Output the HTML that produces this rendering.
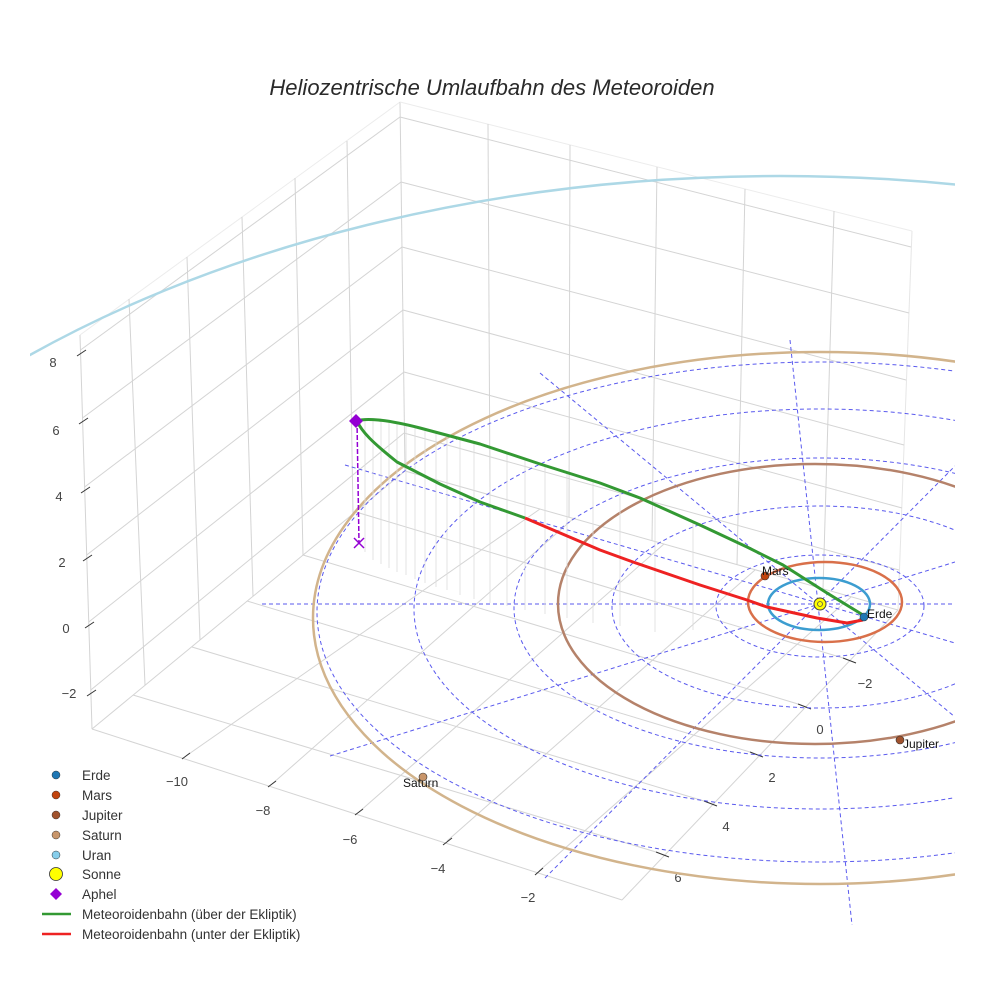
<!DOCTYPE html>
<html><head><meta charset="utf-8"><style>
html,body{margin:0;padding:0;background:#fff;width:984px;height:984px;overflow:hidden;}
svg{display:block;font-family:"Liberation Sans",sans-serif;overflow:hidden;}
</style></head><body>
<svg width="984" height="984" viewBox="0 0 984 984" xmlns="http://www.w3.org/2000/svg">
<defs><clipPath id="c"><rect x="0" y="0" width="955" height="984"/></clipPath>
<clipPath id="u"><rect x="30" y="0" width="925" height="984"/></clipPath></defs>
<text x="492" y="95" text-anchor="middle" font-size="22" font-style="italic" fill="#2a2a2a">Heliozentrische Umlaufbahn des Meteoroiden</text>

<g stroke="#d4d4d4" stroke-width="1" fill="none">
<line x1="80" y1="335" x2="400" y2="102" stroke="#ececec"/>
<line x1="80" y1="335" x2="92" y2="729"/>
<line x1="400" y1="102" x2="405" y2="471"/>
<line x1="129" y1="299" x2="145" y2="685"/>
<line x1="187" y1="257" x2="200" y2="640"/>
<line x1="242" y1="217" x2="253" y2="596"/>
<line x1="295" y1="178" x2="303" y2="555"/>
<line x1="347" y1="141" x2="353" y2="514"/>
<line x1="80.5" y1="350" x2="400" y2="117"/>
<line x1="82.5" y1="418" x2="401" y2="182"/>
<line x1="84.6" y1="487" x2="402" y2="247"/>
<line x1="86.7" y1="555" x2="403" y2="310"/>
<line x1="88.7" y1="622" x2="404" y2="372"/>
<line x1="90.8" y1="690" x2="404" y2="433"/>
<line x1="400" y1="102" x2="912" y2="231" stroke="#ececec"/>
<line x1="912" y1="231" x2="898" y2="610" stroke="#e6e6e6"/>
<line x1="488" y1="124" x2="490" y2="495"/>
<line x1="570" y1="145" x2="569" y2="517"/>
<line x1="657" y1="167" x2="652" y2="541"/>
<line x1="745" y1="189" x2="737" y2="565"/>
<line x1="834" y1="211" x2="823" y2="589"/>
<line x1="400" y1="117" x2="911" y2="247"/>
<line x1="401" y1="182" x2="909" y2="313"/>
<line x1="402" y1="247" x2="906" y2="380"/>
<line x1="403" y1="310" x2="904" y2="445"/>
<line x1="404" y1="372" x2="902" y2="508"/>
<line x1="404" y1="433" x2="899" y2="570"/>
<line x1="92" y1="729" x2="405" y2="471"/>
<line x1="405" y1="471" x2="898" y2="610"/>
<line x1="92" y1="729" x2="622" y2="900"/>
<line x1="622" y1="900" x2="898" y2="610"/>
<line x1="186" y1="756" x2="540" y2="509"/>
<line x1="272" y1="784" x2="574" y2="518"/>
<line x1="359" y1="812" x2="664" y2="544"/>
<line x1="447" y1="841" x2="755" y2="570"/>
<line x1="539" y1="871" x2="851" y2="597"/>
<line x1="656" y1="852" x2="133" y2="695"/>
<line x1="704" y1="801" x2="192" y2="647"/>
<line x1="750" y1="752" x2="247" y2="601"/>
<line x1="798" y1="704" x2="303" y2="555"/>
<line x1="843" y1="658" x2="356" y2="512"/>
</g>

<g stroke="#333" stroke-width="1">
<line x1="77" y1="356" x2="86" y2="350"/>
<line x1="79" y1="424" x2="88" y2="418"/>
<line x1="81" y1="493" x2="90" y2="487"/>
<line x1="83" y1="561" x2="92" y2="555"/>
<line x1="85" y1="628" x2="94" y2="622"/>
<line x1="87" y1="696" x2="96" y2="690"/>
<line x1="182" y1="759" x2="190" y2="753"/>
<line x1="268" y1="787" x2="276" y2="781"/>
<line x1="355" y1="815" x2="363" y2="809"/>
<line x1="443" y1="845" x2="452" y2="838"/>
<line x1="535" y1="875" x2="543" y2="868"/>
<line x1="656" y1="852" x2="669" y2="857"/>
<line x1="704" y1="801" x2="717" y2="806"/>
<line x1="750" y1="752" x2="763" y2="757"/>
<line x1="798" y1="704" x2="811" y2="709"/>
<line x1="843" y1="658" x2="856" y2="663"/>
</g>
<g font-size="13" fill="#444" text-anchor="middle">
<text x="53" y="367">8</text><text x="56" y="435">6</text><text x="59" y="501">4</text>
<text x="62" y="567">2</text><text x="66" y="633">0</text><text x="69" y="698">−2</text>
<text x="177" y="786">−10</text><text x="263" y="815">−8</text><text x="350" y="844">−6</text>
<text x="438" y="873">−4</text><text x="528" y="902">−2</text>
<text x="678" y="882">6</text><text x="726" y="831">4</text><text x="772" y="782">2</text>
<text x="820" y="734">0</text><text x="865" y="688">−2</text>
</g>

<g clip-path="url(#c)" fill="none" stroke-linejoin="round">
<g stroke="#5a5aee" stroke-width="1" stroke-dasharray="4,3">
<ellipse cx="820" cy="606" rx="104" ry="51"/>
<ellipse cx="820" cy="607" rx="208" ry="101"/>
<ellipse cx="820" cy="608" rx="306" ry="150"/>
<ellipse cx="820" cy="609" rx="406" ry="200"/>
<ellipse cx="820" cy="612" rx="503" ry="250"/>
<line x1="262" y1="604" x2="955" y2="604"/>
<line x1="540" y1="373" x2="955" y2="717"/>
<line x1="790" y1="340" x2="852" y2="925"/>
<line x1="545" y1="878" x2="955" y2="466"/>
<line x1="330" y1="756" x2="955" y2="562"/>
<line x1="345" y1="465" x2="955" y2="643"/>
</g>
<ellipse cx="780" cy="876" rx="1123" ry="700" stroke="#add8e6" stroke-width="2.5" clip-path="url(#u)"/>
<ellipse cx="820" cy="618" rx="507" ry="266" stroke="#d2b48c" stroke-width="2.5"/>
<ellipse cx="815" cy="604" rx="257" ry="140" stroke="#b5826a" stroke-width="2.5"/>
<ellipse cx="825" cy="602" rx="77" ry="40" stroke="#d9704a" stroke-width="2.5"/>
<ellipse cx="819" cy="604" rx="51" ry="26" stroke="#3c9dd0" stroke-width="2.5"/>
<g stroke="#dcdcdc" stroke-width="0.8">
<line x1="365" y1="420" x2="365" y2="552"/><line x1="373" y1="419" x2="373" y2="560"/>
<line x1="381" y1="421" x2="381" y2="564"/><line x1="389" y1="422" x2="389" y2="568"/>
<line x1="397" y1="424" x2="397" y2="572"/><line x1="406" y1="425" x2="406" y2="575"/>
<line x1="415" y1="427" x2="415" y2="579"/><line x1="425" y1="429" x2="425" y2="583"/>
<line x1="436" y1="432" x2="436" y2="587"/><line x1="447" y1="435" x2="447" y2="590"/>
<line x1="460" y1="439" x2="460" y2="595"/><line x1="474" y1="442" x2="474" y2="599"/>
<line x1="490" y1="447" x2="490" y2="603"/><line x1="507" y1="453" x2="507" y2="606"/>
<line x1="525" y1="459" x2="525" y2="610"/><line x1="545" y1="466" x2="545" y2="614"/>
<line x1="567" y1="472" x2="567" y2="618"/><line x1="593" y1="481" x2="593" y2="623"/>
<line x1="620" y1="490" x2="620" y2="626"/><line x1="655" y1="505" x2="655" y2="632"/>
<line x1="693" y1="522" x2="693" y2="630"/>
</g>
<path d="M357,421 C365,418 385,419 420,428 L480,444 L540,464 L600,483 L640,498 L700,525 L747,547 L783,565 L827,593 L863,615" stroke="#339933" stroke-width="3"/>
<path d="M357,421 C362,432 372,442 397,462 L440,484 L480,502 L525,518" stroke="#339933" stroke-width="3"/>
<path d="M525,518 L600,550 L633,562 L700,585 L747,600 L767,607 L817,618 L847,623 L863,620" stroke="#ee2222" stroke-width="3"/>
<line x1="357" y1="421" x2="359" y2="543" stroke="#9400d3" stroke-width="1.5" stroke-dasharray="5,2"/>
</g>

<path d="M359,543 m-5,-5 l10,10 m0,-10 l-10,10" stroke="#9400d3" stroke-width="1.5"/>
<path d="M356,414 l7,7 l-7,7 l-7,-7 z" fill="#9400d3"/>
<circle cx="820" cy="604" r="6" fill="#ffff00" stroke="#444" stroke-width="1"/>
<circle cx="820" cy="604" r="2.5" fill="none" stroke="#555" stroke-width="0.8"/>
<circle cx="864" cy="617" r="4" fill="#1f77b4" stroke="#333" stroke-width="0.6"/>
<circle cx="765" cy="576" r="4" fill="#c1440e" stroke="#333" stroke-width="0.6"/>
<circle cx="900" cy="740" r="4" fill="#a0522d" stroke="#333" stroke-width="0.6"/>
<circle cx="423" cy="777" r="4" fill="#c8956a" stroke="#333" stroke-width="0.6"/>
<g font-size="12" fill="#111">
<text x="867" y="618">Erde</text>
<text x="762" y="575">Mars</text>
<text x="903" y="748">Jupiter</text>
<text x="403" y="787">Saturn</text>
</g>

<g font-size="13.5" fill="#333">
<circle cx="56" cy="775" r="4" fill="#1f77b4" stroke="#333" stroke-width="0.5"/><text x="82" y="780">Erde</text>
<circle cx="56" cy="795" r="4" fill="#c1440e" stroke="#333" stroke-width="0.5"/><text x="82" y="800">Mars</text>
<circle cx="56" cy="815" r="4" fill="#a0522d" stroke="#333" stroke-width="0.5"/><text x="82" y="820">Jupiter</text>
<circle cx="56" cy="835" r="4" fill="#c8956a" stroke="#333" stroke-width="0.5"/><text x="82" y="840">Saturn</text>
<circle cx="56" cy="855" r="4" fill="#87ceeb" stroke="#333" stroke-width="0.5"/><text x="82" y="860">Uran</text>
<circle cx="56" cy="874" r="6.5" fill="#ffff00" stroke="#333" stroke-width="0.8"/><text x="82" y="879">Sonne</text>
<path d="M56,888 l6,6 l-6,6 l-6,-6 z" fill="#9400d3"/><text x="82" y="899">Aphel</text>
<line x1="42" y1="914" x2="71" y2="914" stroke="#339933" stroke-width="2.5"/><text x="82" y="919">Meteoroidenbahn (über der Ekliptik)</text>
<line x1="42" y1="934" x2="71" y2="934" stroke="#ee2222" stroke-width="2.5"/><text x="82" y="939">Meteoroidenbahn (unter der Ekliptik)</text>
</g>
</svg>
</body></html>
